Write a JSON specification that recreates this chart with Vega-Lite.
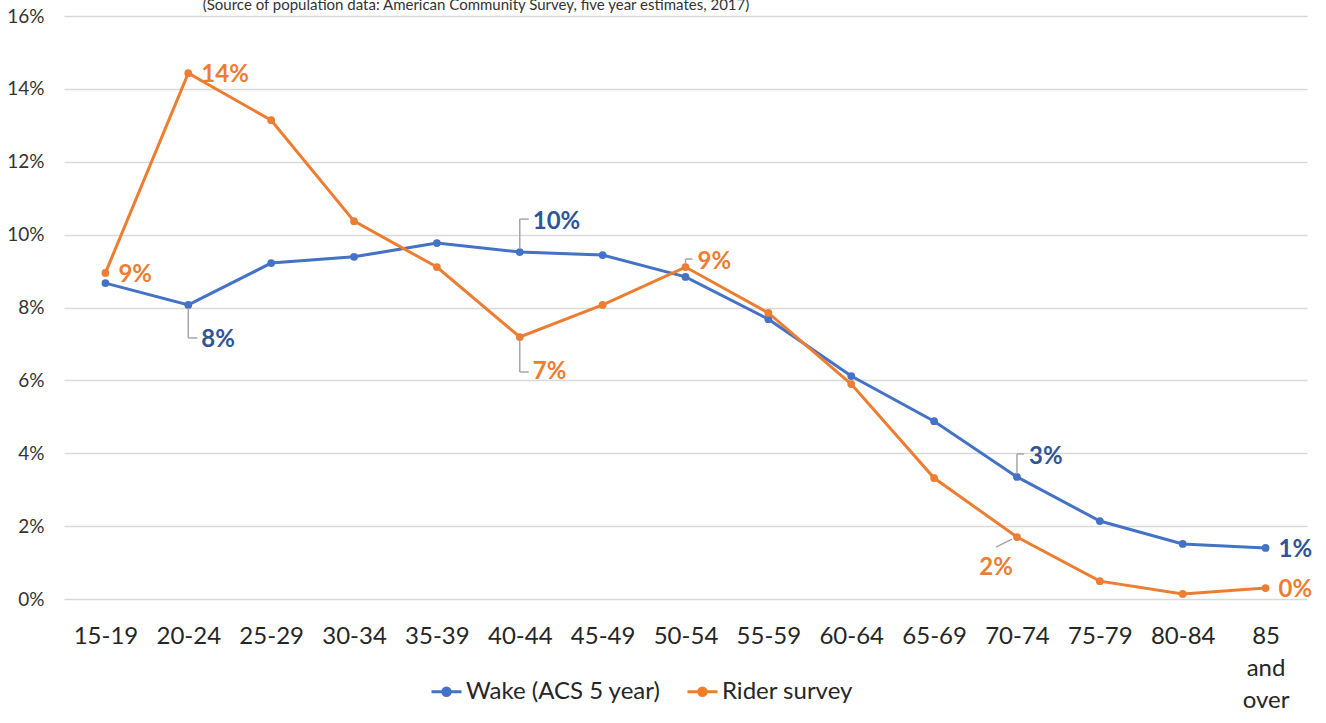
{
  "$schema": "https://vega.github.io/schema/vega-lite/v6.json",
  "autosize": {"type": "none"},
  "width": 1243,
  "height": 583,
  "padding": {"left": 64, "top": 16, "right": 19, "bottom": 124},
  "background": "white",
  "title": {
    "text": "(Source of population data: American Community Survey, five year estimates, 2017)",
    "anchor": "start",
    "dx": 196,
    "dy": 18,
    "offset": 0,
    "baseline": "alphabetic",
    "font": "Lato",
    "fontSize": 15,
    "fontWeight": "normal",
    "color": "#333333"
  },
  "config": {
    "view": {"stroke": null},
    "font": "Lato"
  },
  "data": {
    "values": [
      {"age": "15-19", "series": "Wake (ACS 5 year)", "value": 0.0867, "label": ""},
      {"age": "20-24", "series": "Wake (ACS 5 year)", "value": 0.0807, "label": "8%"},
      {"age": "25-29", "series": "Wake (ACS 5 year)", "value": 0.0922, "label": ""},
      {"age": "30-34", "series": "Wake (ACS 5 year)", "value": 0.0939, "label": ""},
      {"age": "35-39", "series": "Wake (ACS 5 year)", "value": 0.0977, "label": ""},
      {"age": "40-44", "series": "Wake (ACS 5 year)", "value": 0.0952, "label": "10%"},
      {"age": "45-49", "series": "Wake (ACS 5 year)", "value": 0.0944, "label": ""},
      {"age": "50-54", "series": "Wake (ACS 5 year)", "value": 0.0884, "label": ""},
      {"age": "55-59", "series": "Wake (ACS 5 year)", "value": 0.0768, "label": ""},
      {"age": "60-64", "series": "Wake (ACS 5 year)", "value": 0.0612, "label": ""},
      {"age": "65-69", "series": "Wake (ACS 5 year)", "value": 0.0488, "label": ""},
      {"age": "70-74", "series": "Wake (ACS 5 year)", "value": 0.0335, "label": "3%"},
      {"age": "75-79", "series": "Wake (ACS 5 year)", "value": 0.0214, "label": ""},
      {"age": "80-84", "series": "Wake (ACS 5 year)", "value": 0.0151, "label": ""},
      {"age": "85 and over", "series": "Wake (ACS 5 year)", "value": 0.0140, "label": "1%"},
      {"age": "15-19", "series": "Rider survey", "value": 0.0895, "label": "9%"},
      {"age": "20-24", "series": "Rider survey", "value": 0.1443, "label": "14%"},
      {"age": "25-29", "series": "Rider survey", "value": 0.1314, "label": ""},
      {"age": "30-34", "series": "Rider survey", "value": 0.1037, "label": ""},
      {"age": "35-39", "series": "Rider survey", "value": 0.0911, "label": ""},
      {"age": "40-44", "series": "Rider survey", "value": 0.0719, "label": "7%"},
      {"age": "45-49", "series": "Rider survey", "value": 0.0807, "label": ""},
      {"age": "50-54", "series": "Rider survey", "value": 0.0911, "label": "9%"},
      {"age": "55-59", "series": "Rider survey", "value": 0.0785, "label": ""},
      {"age": "60-64", "series": "Rider survey", "value": 0.0590, "label": ""},
      {"age": "65-69", "series": "Rider survey", "value": 0.0332, "label": ""},
      {"age": "70-74", "series": "Rider survey", "value": 0.0170, "label": "2%"},
      {"age": "75-79", "series": "Rider survey", "value": 0.0049, "label": ""},
      {"age": "80-84", "series": "Rider survey", "value": 0.0014, "label": ""},
      {"age": "85 and over", "series": "Rider survey", "value": 0.0030, "label": "0%"}
    ]
  },
  "encoding": {
    "x": {
      "field": "age",
      "type": "ordinal",
      "sort": null,
      "scale": {"type": "point", "padding": 0.5},
      "axis": {
        "title": null,
        "domain": false,
        "ticks": false,
        "grid": false,
        "labelAngle": 0,
        "labelFont": "Lato",
        "labelFontSize": 24,
        "labelColor": "#262626",
        "labelPadding": 25,
        "labelLineHeight": 32,
        "labelExpr": "datum.label == '85 and over' ? ['85', 'and', 'over'] : datum.label"
      }
    },
    "y": {
      "field": "value",
      "type": "quantitative",
      "scale": {"domain": [0, 0.16]},
      "axis": {
        "title": null,
        "values": [0, 0.02, 0.04, 0.06, 0.08, 0.1, 0.12, 0.14, 0.16],
        "format": ".0%",
        "domain": false,
        "ticks": false,
        "grid": true,
        "gridColor": "#D9D9D9",
        "gridWidth": 1.5,
        "labelFont": "Lato",
        "labelFontSize": 19,
        "labelColor": "#333333",
        "labelPadding": 20
      }
    }
  },
  "layer": [
    {
      "transform": [{"filter": "datum.series == 'Wake (ACS 5 year)'"}],
      "mark": {"type": "line", "strokeWidth": 3},
      "encoding": {
        "color": {
          "field": "series", "type": "nominal",
          "scale": {"domain": ["Wake (ACS 5 year)", "Rider survey"], "range": ["#4472C4", "#ED7D31"]},
          "legend": {
            "orient": "none",
            "legendX": 366,
            "legendY": 659,
            "direction": "horizontal",
            "title": null,
            "padding": 0,
            "columnPadding": 20,
            "labelFont": "Lato",
            "labelFontSize": 24,
            "labelLimit": 0,
            "labelColor": "#262626",
            "labelOffset": 3,
            "symbolType": "M-1,0L1,0M-0.25,0A0.25,0.25,0,1,1,0.25,0A0.25,0.25,0,1,1,-0.25,0",
            "symbolSize": 900,
            "symbolStrokeWidth": 3
          }
        }
      }
    },
    {
      "transform": [{"filter": "datum.series == 'Wake (ACS 5 year)'"}],
      "mark": {"type": "point", "filled": true, "size": 60, "opacity": 1},
      "encoding": {"color": {"field": "series", "type": "nominal"}}
    },
    {
      "transform": [{"filter": "datum.series == 'Rider survey'"}],
      "mark": {"type": "line", "strokeWidth": 3},
      "encoding": {"color": {"field": "series", "type": "nominal"}}
    },
    {
      "transform": [{"filter": "datum.series == 'Rider survey'"}],
      "mark": {"type": "point", "filled": true, "size": 60, "opacity": 1},
      "encoding": {"color": {"field": "series", "type": "nominal"}}
    },
    {
      "transform": [{"filter": "(datum.series == 'Wake (ACS 5 year)' && datum.age == '20-24')"}],
      "mark": {"type": "rule", "color": "#A6A6A6", "strokeWidth": 1.5, "yOffset": 3, "y2Offset": 33},
      "encoding": {"y2": {"field": "value"}}
    },
    {
      "transform": [{"filter": "(datum.series == 'Wake (ACS 5 year)' && datum.age == '20-24')"}],
      "mark": {"type": "rule", "color": "#A6A6A6", "strokeWidth": 1.5, "yOffset": 33, "y2Offset": 33, "xOffset": 0, "x2Offset": 9},
      "encoding": {"x2": {"field": "age"}, "y2": {"field": "value"}}
    },
    {
      "transform": [{"filter": "(datum.series == 'Rider survey' && datum.age == '40-44')"}],
      "mark": {"type": "rule", "color": "#A6A6A6", "strokeWidth": 1.5, "yOffset": 3, "y2Offset": 35},
      "encoding": {"y2": {"field": "value"}}
    },
    {
      "transform": [{"filter": "(datum.series == 'Rider survey' && datum.age == '40-44')"}],
      "mark": {"type": "rule", "color": "#A6A6A6", "strokeWidth": 1.5, "yOffset": 35, "y2Offset": 35, "xOffset": 0, "x2Offset": 9},
      "encoding": {"x2": {"field": "age"}, "y2": {"field": "value"}}
    },
    {
      "transform": [{"filter": "(datum.series == 'Wake (ACS 5 year)' && datum.age == '40-44')"}],
      "mark": {"type": "rule", "color": "#A6A6A6", "strokeWidth": 1.5, "yOffset": -3, "y2Offset": -33},
      "encoding": {"y2": {"field": "value"}}
    },
    {
      "transform": [{"filter": "(datum.series == 'Wake (ACS 5 year)' && datum.age == '40-44')"}],
      "mark": {"type": "rule", "color": "#A6A6A6", "strokeWidth": 1.5, "yOffset": -33, "y2Offset": -33, "xOffset": 0, "x2Offset": 9},
      "encoding": {"x2": {"field": "age"}, "y2": {"field": "value"}}
    },
    {
      "transform": [{"filter": "(datum.series == 'Wake (ACS 5 year)' && datum.age == '70-74')"}],
      "mark": {"type": "rule", "color": "#A6A6A6", "strokeWidth": 1.5, "yOffset": -3, "y2Offset": -23},
      "encoding": {"y2": {"field": "value"}}
    },
    {
      "transform": [{"filter": "(datum.series == 'Wake (ACS 5 year)' && datum.age == '70-74')"}],
      "mark": {"type": "rule", "color": "#A6A6A6", "strokeWidth": 1.5, "yOffset": -23, "y2Offset": -23, "xOffset": 0, "x2Offset": 7},
      "encoding": {"x2": {"field": "age"}, "y2": {"field": "value"}}
    },
    {
      "transform": [{"filter": "(datum.series == 'Rider survey' && datum.age == '50-54')"}],
      "mark": {"type": "rule", "color": "#A6A6A6", "strokeWidth": 1.5, "yOffset": -3, "y2Offset": -8},
      "encoding": {"y2": {"field": "value"}}
    },
    {
      "transform": [{"filter": "(datum.series == 'Rider survey' && datum.age == '50-54')"}],
      "mark": {"type": "rule", "color": "#A6A6A6", "strokeWidth": 1.5, "yOffset": -8, "y2Offset": -8, "xOffset": 0, "x2Offset": 7},
      "encoding": {"x2": {"field": "age"}, "y2": {"field": "value"}}
    },
    {
      "transform": [{"filter": "(datum.series == 'Rider survey' && datum.age == '70-74')"}],
      "mark": {"type": "rule", "color": "#A6A6A6", "strokeWidth": 1.5, "xOffset": -5, "yOffset": 2, "x2Offset": -21, "y2Offset": 10},
      "encoding": {"x2": {"field": "age"}, "y2": {"field": "value"}}
    },
    {
      "transform": [{"filter": "(datum.series == 'Rider survey' && (datum.age == '15-19' || datum.age == '20-24')) || datum.age == '85 and over'"}],
      "mark": {"type": "text", "align": "left", "baseline": "middle", "dx": 13, "dy": 2, "font": "Lato", "fontSize": 24, "fontWeight": "bold"},
      "encoding": {
        "text": {"field": "label"},
        "color": {"condition": {"test": "datum.series == 'Wake (ACS 5 year)'", "value": "#2F5597"}, "value": "#ED7D31"}
      }
    },
    {
      "transform": [{"filter": "(datum.series == 'Wake (ACS 5 year)' && datum.age == '20-24') || (datum.series == 'Rider survey' && datum.age == '40-44')"}],
      "mark": {"type": "text", "align": "left", "baseline": "middle", "dx": 13, "dy": 35, "font": "Lato", "fontSize": 24, "fontWeight": "bold"},
      "encoding": {
        "text": {"field": "label"},
        "color": {"condition": {"test": "datum.series == 'Wake (ACS 5 year)'", "value": "#2F5597"}, "value": "#ED7D31"}
      }
    },
    {
      "transform": [{"filter": "datum.series == 'Wake (ACS 5 year)' && datum.age == '40-44'"}],
      "mark": {"type": "text", "align": "left", "baseline": "middle", "dx": 13, "dy": -30, "font": "Lato", "fontSize": 24, "fontWeight": "bold", "color": "#2F5597"},
      "encoding": {"text": {"field": "label"}}
    },
    {
      "transform": [{"filter": "datum.series == 'Wake (ACS 5 year)' && datum.age == '70-74'"}],
      "mark": {"type": "text", "align": "left", "baseline": "middle", "dx": 12, "dy": -20, "font": "Lato", "fontSize": 24, "fontWeight": "bold", "color": "#2F5597"},
      "encoding": {"text": {"field": "label"}}
    },
    {
      "transform": [{"filter": "datum.series == 'Rider survey' && datum.age == '50-54'"}],
      "mark": {"type": "text", "align": "left", "baseline": "middle", "dx": 12, "dy": -5, "font": "Lato", "fontSize": 24, "fontWeight": "bold", "color": "#ED7D31"},
      "encoding": {"text": {"field": "label"}}
    },
    {
      "transform": [{"filter": "datum.series == 'Rider survey' && datum.age == '70-74'"}],
      "mark": {"type": "text", "align": "right", "baseline": "middle", "dx": -4, "dy": 31, "font": "Lato", "fontSize": 24, "fontWeight": "bold", "color": "#ED7D31"},
      "encoding": {"text": {"field": "label"}}
    }
  ]
}
